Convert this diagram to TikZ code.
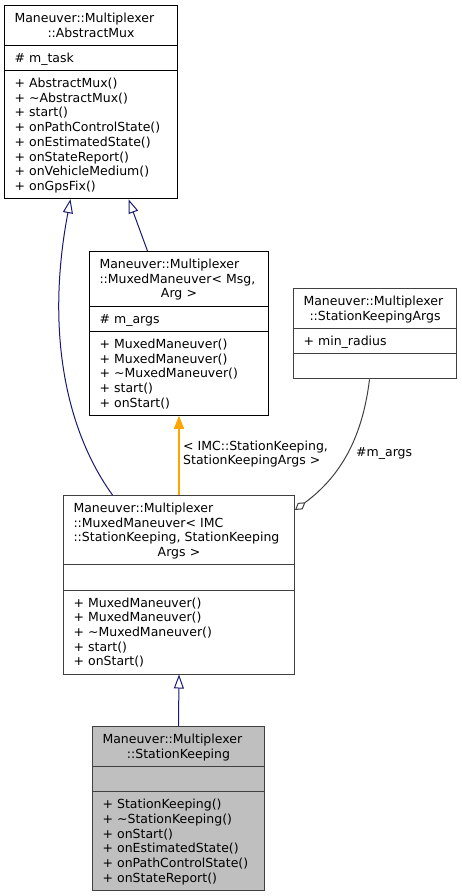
\documentclass[tikz,border=0pt]{standalone}
\usepackage{fontspec}
\setmainfont{DejaVu Sans}
\usepackage{tikz}
\usepackage{xcolor}
\usetikzlibrary{arrows.meta, positioning, shapes.multipart}

\definecolor{edgenavy}{RGB}{25,25,112}
\definecolor{edgeorange}{RGB}{255,165,0}
\definecolor{boxgray}{RGB}{64,64,64}
\definecolor{fillgray}{RGB}{191,191,191}

\newcommand{\topstrut}{\rule{0pt}{12pt}}
\newcommand{\botstrut}{\rule[-3.2pt]{0pt}{3.2pt}}

\begin{document}
\begin{tikzpicture}[x=1pt, y=-1pt,
    classbox/.style={rectangle split, rectangle split parts=3, draw=black, line width=1pt,
      fill=white, anchor=north west, inner xsep=10pt, inner ysep=4.5pt, align=left,
      font=\fontsize{12.5}{14.7}\selectfont},
    grayclass/.style={classbox, draw=boxgray},
    inherit/.style={draw=edgenavy, line width=1pt, -{Triangle[open, length=14pt, width=10pt]}},
    realize/.style={draw=edgeorange, line width=1.3pt, -{Triangle[length=13pt, width=10pt]}},
    member/.style={draw=boxgray, line width=1pt, -{Diamond[open, length=13pt, width=8pt]}},
    edgelabel/.style={inner sep=0pt, align=left, font=\fontsize{12.5}{13.3}\selectfont}]
    \useasboundingbox (0,0) rectangle (461,896);

    % Base class
    \node[classbox, text width=153] (abstractmux) at (4,5) {\topstrut Maneuver::Multiplexer\\\hspace*{\fill}::AbstractMux\hspace*{\fill}\botstrut
      \nodepart{two}\topstrut\#~m\_task\botstrut
      \nodepart{three}\topstrut+~AbstractMux()\\+~\textasciitilde AbstractMux()\\+~start()\\+~onPathControlState()\\+~onEstimatedState()\\+~onStateReport()\\+~onVehicleMedium()\\+~onGpsFix()\botstrut};

    % Template class
    \node[classbox, text width=159] (muxed) at (89,251) {\topstrut Maneuver::Multiplexer\\::MuxedManeuver<~Msg,\\\hspace*{\fill}Arg~>\hspace*{\fill}\botstrut
      \nodepart{two}\topstrut\#~m\_args\botstrut
      \nodepart{three}\topstrut+~MuxedManeuver()\\+~MuxedManeuver()\\+~\textasciitilde MuxedManeuver()\\+~start()\\+~onStart()\botstrut};

    % Arguments
    \node[grayclass, text width=143] (argsbox) at (293,288) {\topstrut Maneuver::Multiplexer\\\hspace*{\fill}::StationKeepingArgs\hspace*{\fill}\botstrut
      \nodepart{two}\topstrut+~min\_radius\botstrut
      \nodepart{three}\topstrut\botstrut};

    % Bound template
    \node[grayclass, text width=211] (muxedsk) at (63,495) {\topstrut Maneuver::Multiplexer\\::MuxedManeuver<~IMC\\::StationKeeping,~StationKeeping\\\hspace*{\fill}Args~>\hspace*{\fill}\botstrut
      \nodepart{two}\topstrut\botstrut
      \nodepart{three}\topstrut+~MuxedManeuver()\\+~MuxedManeuver()\\+~\textasciitilde MuxedManeuver()\\+~start()\\+~onStart()\botstrut};

    % Station keeping
    \node[grayclass, fill=fillgray, text width=152] (station) at (92,726) {\topstrut Maneuver::Multiplexer\\\hspace*{\fill}::StationKeeping\hspace*{\fill}\botstrut
      \nodepart{two}\topstrut\botstrut
      \nodepart{three}\topstrut+~StationKeeping()\\+~\textasciitilde StationKeeping()\\+~onStart()\\+~onEstimatedState()\\+~onPathControlState()\\+~onStateReport()\botstrut};

    % Inheritance
    \draw[inherit] ([xshift=-66.5]muxedsk.north) .. controls +(-47,-65) and +(-25,131) .. ([xshift=-20.5]abstractmux.south);
    \draw[inherit] ([xshift=-31.5]muxed.north) -- ([xshift=37.5]abstractmux.south);
    \draw[inherit] (station.north) -- (muxedsk.south);

    % Template binding
    \draw[realize] (muxedsk.north) -- (muxed.south);
    \node[edgelabel, anchor=west] (bindlabel) at (183,454) {< IMC::StationKeeping,\\StationKeepingArgs >};

    % Member
    \draw[member] ([xshift=-5.5]argsbox.south) .. controls +(-7,58) and +(46,-34) .. ([yshift=-15]muxedsk.north east);
    \node[edgelabel, anchor=west] (argslabel) at (356,453) {\#m\_args};
\end{tikzpicture}
\end{document}
